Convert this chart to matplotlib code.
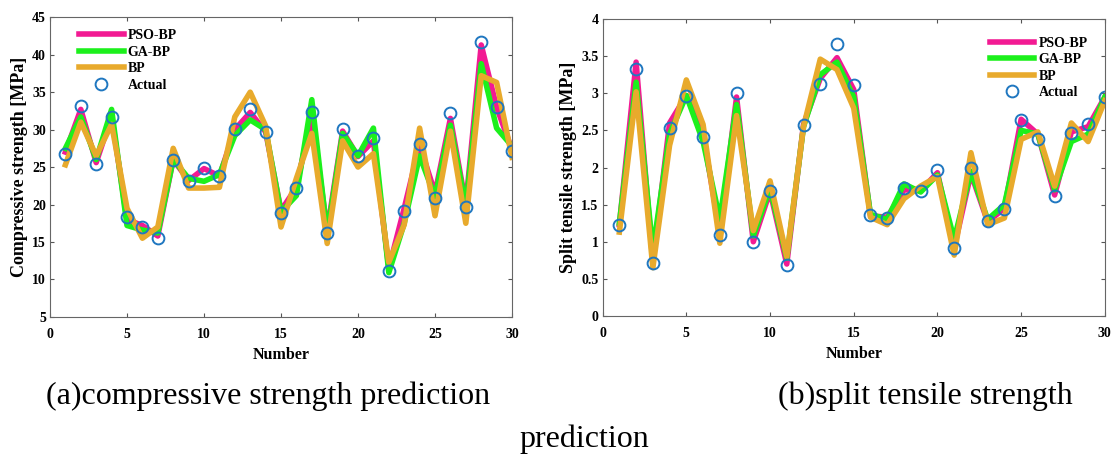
import numpy as np
import matplotlib
matplotlib.use('Agg')
import matplotlib.pyplot as plt

# Sample index
number = np.arange(1, 31)

# (a) compressive strength [MPa]
cs_actual = [26.7, 33.1, 25.4, 31.7, 18.4, 17.0, 15.5, 26.0, 23.1, 24.9,
             23.8, 30.1, 32.7, 29.7, 18.9, 22.2, 32.4, 16.2, 30.1, 26.5,
             28.9, 11.1, 19.1, 28.1, 20.9, 32.2, 19.7, 41.7, 33.0, 27.2]
cs_pso = [27.0, 32.7, 25.6, 31.8, 18.0, 17.2, 15.8, 26.0, 23.2, 24.8,
          23.8, 30.0, 32.3, 29.7, 19.2, 22.3, 32.0, 16.5, 29.8, 26.4,
          28.5, 11.5, 19.5, 28.0, 21.5, 31.5, 20.0, 41.3, 33.0, 27.3]
cs_ga = [27.5, 31.7, 26.0, 32.7, 17.2, 16.6, 16.2, 26.0, 23.5, 23.1,
         24.0, 29.2, 31.3, 30.0, 19.0, 21.2, 34.0, 16.0, 29.5, 26.5,
         30.2, 10.9, 17.5, 26.5, 21.0, 30.6, 19.7, 38.8, 30.2, 27.8]
cs_bp = [25.3, 31.0, 26.5, 30.7, 19.5, 15.5, 17.0, 27.5, 22.2, 22.2,
         22.3, 31.7, 35.0, 30.5, 17.0, 23.5, 29.5, 14.8, 28.5, 25.0,
         26.8, 12.3, 17.3, 30.2, 18.5, 29.8, 17.5, 37.2, 36.3, 26.3]

# (b) split tensile strength [MPa]
st_actual = [1.23, 3.33, 0.72, 2.53, 2.97, 2.41, 1.09, 3.01, 0.99, 1.69,
             0.69, 2.57, 3.13, 3.66, 3.11, 1.36, 1.32, 1.72, 1.68, 1.97,
             0.91, 1.99, 1.28, 1.44, 2.64, 2.39, 1.61, 2.46, 2.59, 2.95]
st_pso = [1.23, 3.42, 0.72, 2.60, 2.97, 2.45, 1.12, 2.95, 1.00, 1.68,
          0.70, 2.58, 3.20, 3.48, 3.05, 1.35, 1.33, 1.70, 1.69, 1.93,
          0.92, 1.92, 1.27, 1.45, 2.65, 2.45, 1.63, 2.48, 2.55, 2.95]
st_ga = [1.25, 3.15, 0.88, 2.45, 2.97, 2.35, 1.30, 2.85, 1.08, 1.72,
         0.78, 2.55, 3.25, 3.42, 2.95, 1.37, 1.30, 1.78, 1.67, 1.90,
         1.03, 1.95, 1.30, 1.50, 2.50, 2.45, 1.70, 2.35, 2.45, 2.95]
st_bp = [1.13, 3.02, 0.65, 2.30, 3.18, 2.58, 0.98, 2.70, 1.15, 1.82,
         0.80, 2.55, 3.46, 3.32, 2.80, 1.33, 1.23, 1.58, 1.75, 1.88,
         0.82, 2.20, 1.23, 1.32, 2.38, 2.48, 1.75, 2.60, 2.35, 2.90]

cs_yticks = [5, 10, 15, 20, 25, 30, 35, 40, 45]
st_yticks = [0, 0.5, 1, 1.5, 2, 2.5, 3, 3.5, 4]
st_ylabels = ['0', '0.5', '1', '1.5', '2', '2.5', '3', '3.5', '4']

plt.rcParams['font.family'] = ['Liberation Serif', 'DejaVu Serif']

PINK = '#f21a93'
GREEN = '#1cf01c'
ORANGE = '#e8aa2c'
BLUE = '#1f77c0'


def panel(ax, actual, pso, ga, bp, ylim, yticks, ylabel, loc, anchor):
    ax.plot(number, pso, color=PINK, lw=4, label='PSO-BP')
    ax.plot(number, ga, color=GREEN, lw=4, label='GA-BP')
    ax.plot(number, bp, color=ORANGE, lw=4, label='BP')
    ax.plot(number, actual, 'o', mfc='none', mec=BLUE, mew=1.4, ms=8.5,
            label='Actual')
    ax.set_xlim(0, 30)
    ax.set_ylim(*ylim)
    ax.set_xticks(range(0, 31, 5))
    ax.set_yticks(yticks)
    ax.tick_params(direction='in', top=True, right=True, length=3,
                   labelsize=10, color='#555555')
    ax.tick_params(axis='x', pad=8)
    ax.tick_params(axis='y', pad=3)
    for lab in ax.get_xticklabels() + ax.get_yticklabels():
        lab.set_fontweight('bold')
    for s in ax.spines.values():
        s.set_color('#666666')
        s.set_linewidth(0.8)
    ax.set_xlabel('Number', fontsize=11.5, fontweight='bold', labelpad=4)
    ax.set_ylabel(ylabel, fontsize=13, fontweight='bold', labelpad=3)
    ax.legend(loc=loc, bbox_to_anchor=anchor, frameon=False,
              handlelength=3.2, prop={'weight': 'bold', 'size': 10},
              labelspacing=0.25, borderaxespad=0, borderpad=0,
              handletextpad=0.3)


fig = plt.figure(figsize=(11.16, 4.54), dpi=100)
ax1 = fig.add_axes([0.0448, 0.302, 0.414, 0.660])
ax2 = fig.add_axes([0.540, 0.304, 0.450, 0.654])

panel(ax1, cs_actual, cs_pso, cs_ga, cs_bp, (5, 45), cs_yticks,
      'Compressive strength [MPa]', 'upper left', (0.063, 0.96))
panel(ax2, st_actual, st_pso, st_ga, st_bp, (0, 4), st_yticks,
      'Split tensile strength [MPa]', 'upper right', (0.966, 0.94))
ax2.set_yticklabels(st_ylabels, fontweight='bold')

fig.text(0.240, 0.128, '(a)compressive strength prediction', fontsize=23,
         ha='center', va='center')
fig.text(0.829, 0.128, '(b)split tensile strength', fontsize=23,
         ha='center', va='center')
fig.text(0.524, 0.032, 'prediction', fontsize=23, ha='center', va='center')

fig.savefig('out.png', dpi=100)
